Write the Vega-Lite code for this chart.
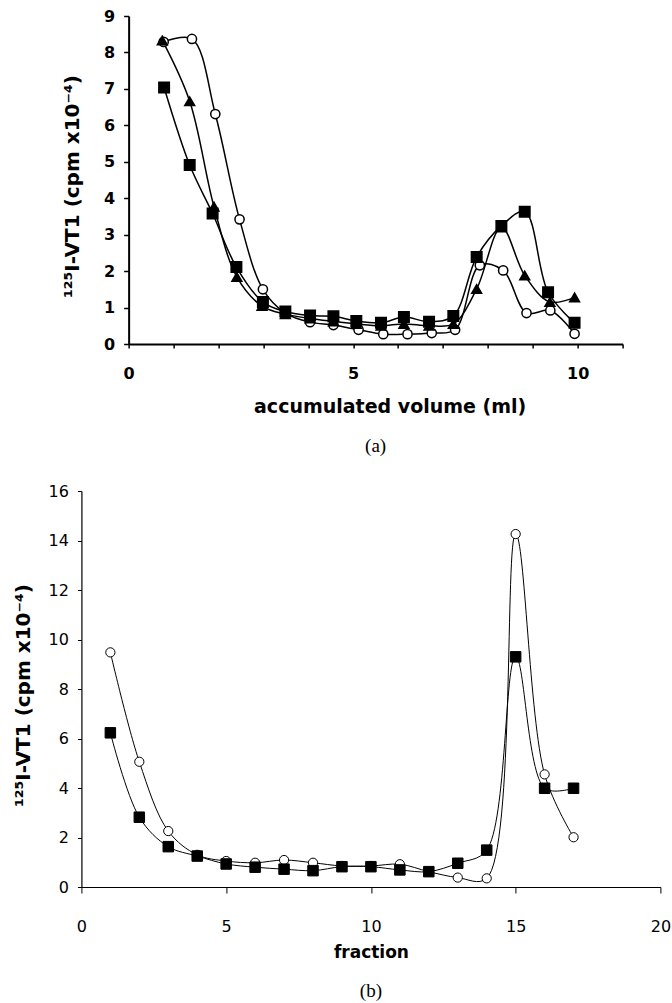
{
  "$schema": "https://vega.github.io/schema/vega-lite/v6.json",
  "background": "white",
  "padding": {"left": 13, "top": 8, "right": 2, "bottom": 0},
  "columns": 1,
  "align": "each",
  "center": true,
  "spacing": 27,
  "config": {
    "view": {"stroke": null},
    "axis": {"grid": false, "domainColor": "black", "tickColor": "black", "labelColor": "black", "titleColor": "black", "labelFlush": false, "labelOverlap": false}
  },
  "concat": [
    {
      "width": 494,
      "height": 328,
      "title": {"text": "(a)", "orient": "bottom", "font": "Liberation Serif", "fontSize": 19, "fontWeight": "normal", "color": "black", "offset": 21},
      "data": {"values": [
        {"vol": 0.78, "cpm": 8.29, "series": "circle"},
        {"vol": 1.41, "cpm": 8.37, "series": "circle"},
        {"vol": 1.93, "cpm": 6.31, "series": "circle"},
        {"vol": 2.47, "cpm": 3.42, "series": "circle"},
        {"vol": 2.99, "cpm": 1.50, "series": "circle"},
        {"vol": 3.49, "cpm": 0.85, "series": "circle"},
        {"vol": 4.04, "cpm": 0.60, "series": "circle"},
        {"vol": 4.56, "cpm": 0.52, "series": "circle"},
        {"vol": 5.12, "cpm": 0.39, "series": "circle"},
        {"vol": 5.67, "cpm": 0.27, "series": "circle"},
        {"vol": 6.21, "cpm": 0.27, "series": "circle"},
        {"vol": 6.75, "cpm": 0.30, "series": "circle"},
        {"vol": 7.27, "cpm": 0.39, "series": "circle"},
        {"vol": 7.82, "cpm": 2.16, "series": "circle"},
        {"vol": 8.34, "cpm": 2.02, "series": "circle"},
        {"vol": 8.86, "cpm": 0.85, "series": "circle"},
        {"vol": 9.39, "cpm": 0.92, "series": "circle"},
        {"vol": 9.93, "cpm": 0.28, "series": "circle"},
        {"vol": 0.75, "cpm": 8.33, "series": "triangle"},
        {"vol": 1.36, "cpm": 6.66, "series": "triangle"},
        {"vol": 1.90, "cpm": 3.77, "series": "triangle"},
        {"vol": 2.41, "cpm": 1.84, "series": "triangle"},
        {"vol": 2.97, "cpm": 1.04, "series": "triangle"},
        {"vol": 3.49, "cpm": 0.82, "series": "triangle"},
        {"vol": 4.04, "cpm": 0.70, "series": "triangle"},
        {"vol": 4.56, "cpm": 0.62, "series": "triangle"},
        {"vol": 5.07, "cpm": 0.55, "series": "triangle"},
        {"vol": 5.62, "cpm": 0.50, "series": "triangle"},
        {"vol": 6.13, "cpm": 0.55, "series": "triangle"},
        {"vol": 6.69, "cpm": 0.50, "series": "triangle"},
        {"vol": 7.23, "cpm": 0.55, "series": "triangle"},
        {"vol": 7.75, "cpm": 1.51, "series": "triangle"},
        {"vol": 8.30, "cpm": 3.20, "series": "triangle"},
        {"vol": 8.82, "cpm": 1.88, "series": "triangle"},
        {"vol": 9.38, "cpm": 1.15, "series": "triangle"},
        {"vol": 9.93, "cpm": 1.28, "series": "triangle"},
        {"vol": 0.79, "cpm": 7.04, "series": "square"},
        {"vol": 1.36, "cpm": 4.91, "series": "square"},
        {"vol": 1.87, "cpm": 3.58, "series": "square"},
        {"vol": 2.40, "cpm": 2.11, "series": "square"},
        {"vol": 2.99, "cpm": 1.15, "series": "square"},
        {"vol": 3.49, "cpm": 0.89, "series": "square"},
        {"vol": 4.04, "cpm": 0.78, "series": "square"},
        {"vol": 4.56, "cpm": 0.76, "series": "square"},
        {"vol": 5.07, "cpm": 0.63, "series": "square"},
        {"vol": 5.62, "cpm": 0.58, "series": "square"},
        {"vol": 6.13, "cpm": 0.74, "series": "square"},
        {"vol": 6.69, "cpm": 0.61, "series": "square"},
        {"vol": 7.23, "cpm": 0.77, "series": "square"},
        {"vol": 7.75, "cpm": 2.39, "series": "square"},
        {"vol": 8.30, "cpm": 3.24, "series": "square"},
        {"vol": 8.82, "cpm": 3.63, "series": "square"},
        {"vol": 9.34, "cpm": 1.42, "series": "square"},
        {"vol": 9.93, "cpm": 0.58, "series": "square"}
      ]},
      "encoding": {
        "x": {"field": "vol", "type": "quantitative", "scale": {"domain": [0, 11], "nice": false},
          "axis": {"title": "accumulated volume (ml)", "values": [0,1,2,3,4,5,6,7,8,9,10,11], "labelExpr": "datum.value % 5 === 0 ? datum.label : ''",
            "tickSize": 4, "tickWidth": 1.5, "domainWidth": 2, "labelPadding": 17,
            "labelFont": "DejaVu Sans", "labelFontWeight": "bold", "labelFontSize": 16,
            "titleFont": "DejaVu Sans", "titleFontWeight": "bold", "titleFontSize": 19, "titleLetterSpacing": 1.8, "titlePadding": 16, "titleX": 261}},
        "y": {"field": "cpm", "type": "quantitative", "scale": {"domain": [0, 9], "nice": false},
          "axis": {"title": "¹²⁵I-VT1  (cpm x10⁻⁴)", "values": [0,1,2,3,4,5,6,7,8,9],
            "tickSize": 5, "tickWidth": 1.5, "domainWidth": 2, "labelPadding": 9,
            "labelFont": "DejaVu Sans", "labelFontWeight": "bold", "labelFontSize": 16,
            "titleFont": "DejaVu Sans", "titleFontWeight": "bold", "titleFontSize": 20, "titleLetterSpacing": 0.7, "titlePadding": 21, "titleY": 170}}
      },
      "layer": [
        {"mark": {"type": "line", "interpolate": "catmull-rom", "color": "black", "strokeWidth": 1.5},
         "encoding": {"detail": {"field": "series"}, "order": {"field": "vol"}}},
        {"mark": {"type": "point", "filled": true, "stroke": "black", "strokeWidth": 1.5, "opacity": 1},
         "encoding": {
           "shape": {"field": "series", "scale": {"domain": ["circle", "triangle", "square"], "range": ["circle", "triangle-up", "square"]}, "legend": null},
           "fill": {"field": "series", "scale": {"domain": ["circle", "triangle", "square"], "range": ["white", "black", "black"]}, "legend": null},
           "size": {"field": "series", "scale": {"domain": ["circle", "triangle", "square"], "range": [85, 110, 95]}, "legend": null}
         }}
      ]
    },
    {
      "width": 579,
      "height": 396,
      "title": {"text": "(b)", "orient": "bottom", "font": "Liberation Serif", "fontSize": 19, "fontWeight": "normal", "color": "black", "offset": 22},
      "data": {"values": [
        {"fraction": 1, "cpm": 9.48, "series": "circle"},
        {"fraction": 2, "cpm": 5.06, "series": "circle"},
        {"fraction": 3, "cpm": 2.26, "series": "circle"},
        {"fraction": 4, "cpm": 1.30, "series": "circle"},
        {"fraction": 5, "cpm": 1.05, "series": "circle"},
        {"fraction": 6, "cpm": 0.98, "series": "circle"},
        {"fraction": 7, "cpm": 1.09, "series": "circle"},
        {"fraction": 8, "cpm": 0.98, "series": "circle"},
        {"fraction": 9, "cpm": 0.85, "series": "circle"},
        {"fraction": 10, "cpm": 0.85, "series": "circle"},
        {"fraction": 11, "cpm": 0.92, "series": "circle"},
        {"fraction": 12, "cpm": 0.62, "series": "circle"},
        {"fraction": 13, "cpm": 0.38, "series": "circle"},
        {"fraction": 14, "cpm": 0.35, "series": "circle"},
        {"fraction": 15, "cpm": 14.26, "series": "circle"},
        {"fraction": 16, "cpm": 4.55, "series": "circle"},
        {"fraction": 17, "cpm": 2.01, "series": "circle"},
        {"fraction": 1, "cpm": 6.23, "series": "square"},
        {"fraction": 2, "cpm": 2.82, "series": "square"},
        {"fraction": 3, "cpm": 1.63, "series": "square"},
        {"fraction": 4, "cpm": 1.25, "series": "square"},
        {"fraction": 5, "cpm": 0.93, "series": "square"},
        {"fraction": 6, "cpm": 0.80, "series": "square"},
        {"fraction": 7, "cpm": 0.72, "series": "square"},
        {"fraction": 8, "cpm": 0.66, "series": "square"},
        {"fraction": 9, "cpm": 0.82, "series": "square"},
        {"fraction": 10, "cpm": 0.82, "series": "square"},
        {"fraction": 11, "cpm": 0.69, "series": "square"},
        {"fraction": 12, "cpm": 0.62, "series": "square"},
        {"fraction": 13, "cpm": 0.96, "series": "square"},
        {"fraction": 14, "cpm": 1.49, "series": "square"},
        {"fraction": 15, "cpm": 9.30, "series": "square"},
        {"fraction": 16, "cpm": 3.99, "series": "square"},
        {"fraction": 17, "cpm": 3.99, "series": "square"}
      ]},
      "encoding": {
        "x": {"field": "fraction", "type": "quantitative", "scale": {"domain": [0, 20], "nice": false},
          "axis": {"title": "fraction", "values": [0,5,10,15,20],
            "tickSize": 6, "tickWidth": 1, "domainWidth": 1.2, "labelPadding": 25,
            "labelFont": "DejaVu Sans", "labelFontWeight": "normal", "labelFontSize": 16,
            "titleFont": "DejaVu Sans", "titleFontWeight": "bold", "titleFontSize": 17, "titleLetterSpacing": 3, "titlePadding": 10}},
        "y": {"field": "cpm", "type": "quantitative", "scale": {"domain": [0, 16], "nice": false},
          "axis": {"title": "¹²⁵I-VT1  (cpm x10⁻⁴)", "values": [0,2,4,6,8,10,12,14,16],
            "tickSize": 4, "tickWidth": 1, "domainWidth": 1.2, "labelPadding": 9,
            "labelFont": "DejaVu Sans", "labelFontWeight": "normal", "labelFontSize": 16,
            "titleFont": "DejaVu Sans", "titleFontWeight": "bold", "titleFontSize": 20, "titleLetterSpacing": 0.7, "titlePadding": 15, "titleY": 204}}
      },
      "layer": [
        {"mark": {"type": "line", "interpolate": "catmull-rom", "color": "black", "strokeWidth": 1},
         "encoding": {"detail": {"field": "series"}, "order": {"field": "fraction"}}},
        {"mark": {"type": "point", "filled": true, "stroke": "black", "strokeWidth": 1, "opacity": 1},
         "encoding": {
           "shape": {"field": "series", "scale": {"domain": ["circle", "square"], "range": ["circle", "square"]}, "legend": null},
           "fill": {"field": "series", "scale": {"domain": ["circle", "square"], "range": ["white", "black"]}, "legend": null},
           "size": {"field": "series", "scale": {"domain": ["circle", "square"], "range": [90, 100]}, "legend": null}
         }}
      ]
    }
  ]
}
